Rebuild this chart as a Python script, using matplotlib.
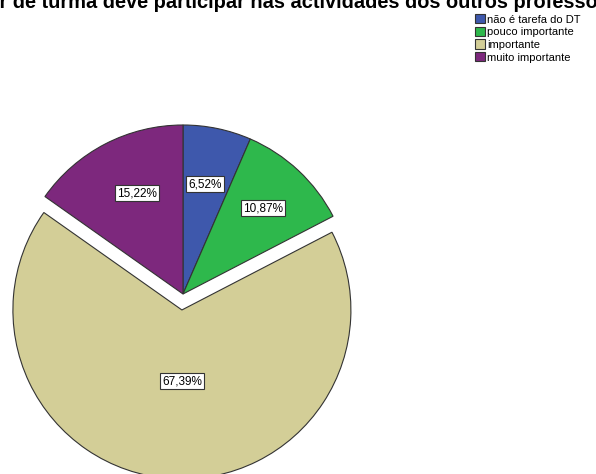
import matplotlib
matplotlib.use("Agg")
import matplotlib.pyplot as plt
from matplotlib.patches import Patch

plt.rcParams['font.family'] = ['Liberation Sans', 'DejaVu Sans']

categorias = ['não é tarefa do DT', 'pouco importante', 'importante', 'muito importante']
contagens = [3, 5, 31, 7]
cores = ['#3e58ac', '#2eb84c', '#d3ce97', '#7d287d']
afastamento = [0, 0, 16, 0]
titulo = 'O director de turma deve participar nas actividades dos outros professores'

fig = plt.figure(figsize=(5.96, 4.74), dpi=100)
ax = fig.add_axes([0, 0, 1, 1])

total = sum(contagens)
wedges, textos = ax.pie(contagens, colors=cores, startangle=90, counterclock=False,
                        explode=afastamento, center=(183, 180), radius=169,
                        wedgeprops=dict(edgecolor='#333333', linewidth=0.8),
                        frame=True)
ax.set_xlim(0, 596)
ax.set_ylim(0, 474)
ax.set_aspect('equal')
ax.axis('off')

# rótulos de percentagem em caixas brancas
pos_rotulos = [(205, 290), (263, 266), (182, 93), (137, 281)]
for (x, y), c in zip(pos_rotulos, contagens):
    pct = f'{100 * c / total:.2f}%'.replace('.', ',')
    ax.text(x, y, pct, ha='center', va='center', fontsize=8.5,
            bbox=dict(boxstyle='square,pad=0.2', fc='white', ec='#333333', lw=0.8))

# título largo, cortado pelas margens da figura
estilo = dict(fontsize=14.4, fontweight='bold')
r = fig.canvas.get_renderer()
pre = ax.text(0, 0, 'O directo', **estilo)
w_pre = pre.get_window_extent(r).width
pre.remove()
ax.text(-w_pre - 1, 474 - 8, titulo, ha='left', va='baseline',
        clip_on=False, **estilo)

handles = [Patch(facecolor=c, edgecolor='#333333', linewidth=0.8) for c in cores]
fig.legend(handles, categorias, loc='upper left', bbox_to_anchor=(0.787, 0.982),
           frameon=False, fontsize=8, handlelength=0.9, handleheight=0.9,
           handletextpad=0.25, labelspacing=0.2, borderpad=0)

fig.savefig('out.png', dpi=100)
